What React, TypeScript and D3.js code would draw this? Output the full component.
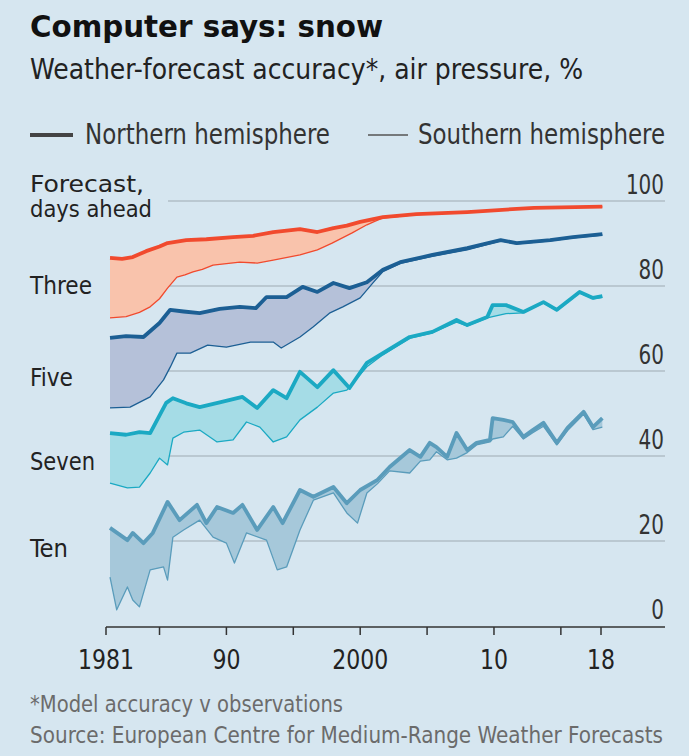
import React, { useEffect } from "react";
import * as d3 from "d3";

type Pt = [number, number];

// --- Data: [year, accuracy %] ---
const threeNorth: Pt[] = [
  [1981.3, 86.6], [1982.2, 86.4], [1983.0, 86.8], [1984.0, 88.2], [1985.0, 89.3],
  [1985.6, 90.1], [1987.0, 90.8], [1988.5, 91.0], [1990.5, 91.5], [1992.0, 91.8],
  [1993.5, 92.7], [1995.5, 93.4], [1996.8, 92.7], [1998.0, 93.6], [1999.0, 94.2],
  [2000.0, 95.1], [2001.7, 96.2], [2004.2, 96.9], [2008.0, 97.4], [2013.0, 98.4],
  [2018.1, 98.7],
];
const threeSouth: Pt[] = [
  [1981.3, 72.5], [1982.5, 72.8], [1983.5, 73.8], [1984.3, 75.1], [1985.0, 77.0],
  [1985.6, 79.5], [1986.3, 82.1], [1986.9, 82.6], [1987.5, 83.3], [1988.2, 83.9],
  [1989.0, 84.9], [1991.0, 85.6], [1992.3, 85.4], [1993.5, 86.1], [1995.5, 87.3],
  [1996.8, 88.5], [1997.9, 90.1], [1999.4, 92.5], [2000.5, 94.4], [2001.0, 95.1],
  [2001.7, 96.0], [2004.2, 96.8], [2008.0, 97.3], [2013.0, 98.3], [2018.1, 98.6],
];
const fiveNorth: Pt[] = [
  [1981.3, 67.8], [1982.5, 68.2], [1983.8, 68.0], [1985.0, 71.3], [1985.8, 74.4],
  [1986.8, 74.0], [1988.0, 73.6], [1989.5, 74.6], [1991.0, 75.1], [1992.2, 74.8],
  [1993.0, 77.4], [1994.5, 77.4], [1995.7, 79.8], [1996.8, 78.6], [1998.0, 80.7],
  [1999.2, 79.5], [2000.5, 80.9], [2001.7, 83.8], [2003.0, 85.6], [2005.4, 87.3],
  [2008.0, 88.9], [2010.5, 90.8], [2011.7, 90.1], [2014.2, 90.8], [2015.9, 91.5],
  [2018.1, 92.2],
];
const fiveSouth: Pt[] = [
  [1981.3, 51.3], [1982.8, 51.5], [1984.3, 53.9], [1985.3, 57.9], [1985.8, 60.9],
  [1986.3, 64.2], [1987.3, 64.2], [1988.6, 66.1], [1990.0, 65.6], [1991.8, 66.8],
  [1993.5, 66.8], [1994.1, 65.4], [1995.5, 68.0], [1996.5, 70.4], [1997.7, 73.6],
  [1998.7, 75.1], [2000.0, 77.2], [2001.0, 80.9], [2001.7, 83.4], [2003.0, 85.3],
  [2005.4, 87.0], [2008.0, 88.5], [2010.5, 90.6], [2011.7, 89.9], [2014.2, 90.6],
  [2015.9, 91.3], [2018.1, 92.0],
];
const sevenNorth: Pt[] = [
  [1981.3, 45.4], [1982.5, 45.0], [1983.5, 45.6], [1984.3, 45.4], [1985.5, 52.5],
  [1986.0, 53.6], [1987.0, 52.4], [1988.0, 51.5], [1989.5, 52.6], [1991.2, 53.9],
  [1992.3, 51.3], [1993.5, 55.5], [1994.5, 53.6], [1995.5, 59.8], [1996.8, 56.2],
  [1998.0, 60.2], [1999.2, 56.0], [2000.5, 61.9], [2001.7, 64.2], [2003.7, 68.0],
  [2005.4, 69.2], [2007.2, 72.0], [2008.0, 70.8], [2009.5, 72.7], [2009.9, 75.5],
  [2010.9, 75.5], [2012.2, 73.9], [2013.7, 76.2], [2014.7, 74.4], [2016.4, 78.6],
  [2017.4, 77.2], [2018.1, 77.6],
];
const sevenSouth: Pt[] = [
  [1981.3, 33.6], [1982.6, 32.5], [1983.5, 32.7], [1984.3, 36.0], [1985.0, 39.5],
  [1985.6, 37.9], [1986.0, 44.2], [1986.8, 45.6], [1988.0, 46.1], [1989.3, 43.3],
  [1990.5, 43.8], [1991.5, 48.0], [1992.5, 46.8], [1993.5, 43.3], [1994.5, 44.5],
  [1995.5, 48.5], [1996.8, 51.5], [1998.0, 54.8], [1999.0, 55.5], [2000.5, 61.0],
  [2001.7, 63.8], [2003.7, 67.7], [2005.4, 69.0], [2007.2, 71.5], [2008.0, 70.6],
  [2009.5, 72.5], [2009.9, 72.8], [2010.9, 73.5], [2012.2, 73.7], [2013.7, 76.0],
  [2014.7, 74.2], [2016.4, 78.4], [2017.4, 77.0], [2018.1, 77.3],
];
const tenNorth: Pt[] = [
  [1981.3, 23.1], [1982.6, 20.2], [1983.0, 21.9], [1983.8, 19.5], [1984.5, 21.9],
  [1985.6, 29.2], [1986.5, 24.9], [1987.8, 28.5], [1988.5, 24.2], [1989.3, 28.0],
  [1990.5, 26.6], [1991.2, 28.5], [1992.3, 22.6], [1993.5, 28.0], [1994.2, 24.2],
  [1995.5, 32.0], [1996.5, 30.4], [1998.0, 32.7], [1999.0, 28.9], [2000.0, 32.0],
  [2001.3, 34.4], [2002.2, 37.4], [2003.7, 41.4], [2004.5, 39.8], [2005.2, 43.1],
  [2005.7, 42.1], [2006.5, 39.8], [2007.2, 45.4], [2008.0, 41.4], [2008.7, 43.1],
  [2009.7, 43.8], [2009.9, 48.9], [2010.7, 48.5], [2011.4, 48.0], [2012.2, 44.5],
  [2012.9, 46.1], [2013.7, 47.8], [2014.7, 43.1], [2015.5, 46.6], [2016.7, 50.4],
  [2017.4, 46.8], [2018.1, 48.9],
];
const tenSouth: Pt[] = [
  [1981.3, 11.5], [1981.8, 3.8], [1982.6, 9.2], [1983.0, 6.1], [1983.5, 4.5],
  [1984.3, 13.2], [1985.3, 13.9], [1985.6, 10.8], [1986.0, 20.9], [1986.8, 22.6],
  [1988.0, 24.9], [1989.0, 20.9], [1990.0, 19.5], [1990.6, 14.8], [1991.5, 21.9],
  [1993.0, 20.2], [1993.8, 13.2], [1994.5, 13.9], [1995.5, 22.6], [1996.5, 29.6],
  [1998.0, 31.3], [1999.0, 26.6], [1999.8, 24.2], [2000.5, 31.3], [2001.3, 33.5],
  [2002.2, 36.5], [2003.7, 36.0], [2004.5, 38.8], [2005.2, 39.1], [2005.7, 41.0],
  [2006.5, 39.1], [2007.2, 39.5], [2008.0, 40.8], [2008.7, 42.6], [2009.7, 43.3],
  [2009.9, 44.0], [2010.7, 44.5], [2011.4, 47.0], [2012.2, 44.0], [2012.9, 45.5],
  [2013.7, 47.0], [2014.7, 42.6], [2015.5, 46.0], [2016.7, 49.8], [2017.4, 46.2],
  [2018.1, 46.8],
];

const bandLabels = ["Three", "Five", "Seven", "Ten"];
const yTicks = [0, 20, 40, 60, 80, 100];
const xMajor = [1981, 1990, 2000, 2010, 2018];
const xMajorLabels = ["1981", "90", "2000", "10", "18"];
const xMinor = [1985, 1995, 2005, 2015];

const bands = [
  { north: tenNorth, south: tenSouth, line: "#5a9cbb", fill: "#a6c8da" },
  { north: sevenNorth, south: sevenSouth, line: "#1ba9c3", fill: "#a5dce6" },
  { north: fiveNorth, south: fiveSouth, line: "#1c5f94", fill: "#b5c1d9" },
  { north: threeNorth, south: threeSouth, line: "#f14a2e", fill: "#f9c3ac" },
];

const FONT = "'Liberation Sans Narrow', 'DejaVu Sans Condensed', 'Roboto Condensed', Roboto, sans-serif";

// text squeezed to the width it takes in the original (condensed house font)
const T = ({ x, y, w, size, children, anchor = "start", fill = "#222", weight = "normal" }: any) => (
  <text
    x={x}
    y={y}
    fontSize={size}
    fontWeight={weight}
    fill={fill}
    textAnchor={anchor}
    textLength={w}
    lengthAdjust="spacingAndGlyphs"
  >
    {children}
  </text>
);

export default function App() {
  useEffect(() => {
    document.body.style.margin = "0";
  }, []);

  const width = 689;
  const height = 756;

  const x = d3.scaleLinear().domain([1981, 2018]).range([106, 601]);
  const y = d3.scaleLinear().domain([0, 100]).range([626, 201]);
  const axisRight = 665;

  const line = d3
    .line<Pt>()
    .x((d) => x(d[0]))
    .y((d) => y(d[1]));

  return (
    <svg width={width} height={height} style={{ display: "block", background: "#d6e6f0" }} fontFamily={FONT}>
      <rect width={width} height={height} fill="#d6e6f0" />

      {/* Header */}
      <T x={30} y={37} w={353} size={31} weight="bold" fill="#111">
        Computer says: snow
      </T>
      <T x={30} y={79} w={553} size={29}>
        Weather-forecast accuracy*, air pressure, %
      </T>

      {/* Legend */}
      <line x1={30} x2={73} y1={135} y2={135} stroke="#444" strokeWidth={4} />
      <T x={85} y={144} w={245} size={28} fill="#333">
        Northern hemisphere
      </T>
      <line x1={368} x2={408} y1={135} y2={135} stroke="#555" strokeWidth={1.5} />
      <T x={418} y={144} w={247} size={28} fill="#333">
        Southern hemisphere
      </T>

      {/* Gridlines */}
      {yTicks
        .filter((t) => t > 0)
        .map((t) => (
          <line key={t} x1={168} x2={axisRight} y1={y(t)} y2={y(t)} stroke="#b0bec7" strokeWidth={1.5} />
        ))}
      {yTicks.map((t) => (
        <T key={t} x={axisRight - 1} y={y(t) - 7} w={String(t).length * 12.7} size={26} anchor="end" fill="#333">
          {t}
        </T>
      ))}

      {/* Left labels */}
      <T x={30} y={192} w={114} size={23}>
        Forecast,
      </T>
      <T x={30} y={217} w={122} size={23}>
        days ahead
      </T>
      {bandLabels.map((lab, i) => (
        <T key={lab} x={30} y={[294, 386, 470, 557][i]} w={[62, 43, 65, 38][i]} size={24}>
          {lab}
        </T>
      ))}

      {/* Bands */}
      {bands.map((b, i) => (
        <g key={i}>
          <path d={line(b.north.concat(b.south.slice().reverse()))! + "Z"} fill={b.fill} stroke="none" />
          <path d={line(b.south)!} fill="none" stroke={b.line} strokeWidth={1.3} strokeLinejoin="round" />
          <path d={line(b.north)!} fill="none" stroke={b.line} strokeWidth={3.8} strokeLinejoin="round" />
        </g>
      ))}

      {/* X axis */}
      <line x1={x(1981)} x2={axisRight} y1={627} y2={627} stroke="#333" strokeWidth={1.5} />
      {xMajor.concat(xMinor).map((t) => (
        <line key={t} x1={x(t)} x2={x(t)} y1={627} y2={635} stroke="#333" strokeWidth={1.5} />
      ))}
      {xMajor.map((t, i) => (
        <T key={t} x={x(t)} y={669} w={xMajorLabels[i].length * 14} size={27} anchor="middle">
          {xMajorLabels[i]}
        </T>
      ))}

      {/* Footnotes */}
      <T x={30} y={712} w={313} size={23} fill="#6b6b6b">
        *Model accuracy v observations
      </T>
      <T x={30} y={743} w={633} size={23} fill="#6b6b6b">
        Source: European Centre for Medium-Range Weather Forecasts
      </T>
    </svg>
  );
}
